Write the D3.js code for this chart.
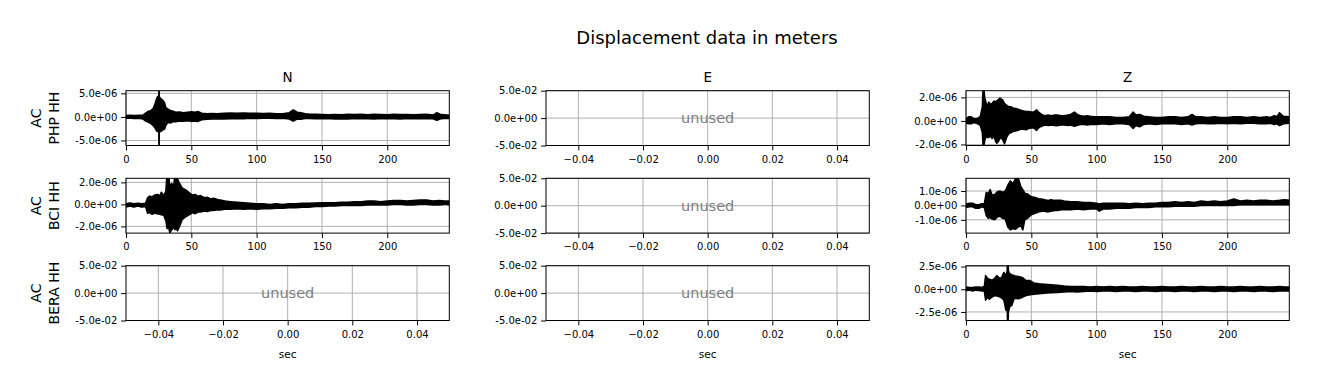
<!DOCTYPE html>
<html><head><meta charset="utf-8">
<script src="https://cdn.jsdelivr.net/npm/d3@7"></script>
<style>
body{margin:0;background:#fff}
svg{display:block}
text{font-family:"DejaVu Sans",sans-serif}
</style>
</head><body><svg id="chart" width="1318" height="389"></svg>
<script>
// ---------------- data ----------------
const figTitle = "Displacement data in meters";
const columnTitles = ["N", "E", "Z"];
const rowLabels = [["AC", "PHP HH"], ["AC", "BCI HH"], ["AC", "BERA HH"]];
const xLabel = "sec";
const unusedText = "unused";
const traceEnd = 247.5;                       // seconds
const timeTicks = [0, 50, 100, 150, 200];
const unusedXTicks = [-0.04, -0.02, 0, 0.02, 0.04];
const unusedLimits = [-0.05, 0.05];
const unusedYTicks = [-0.05, 0, 0.05];
const UNIT = 1e-6;                            // trace values below are in micrometres

// traces: [time (s), min, max] envelope of displacement (µm)
const PHP_N = [[0,-0.3,0.3],[3,-0.25,0.35],[6,-0.35,0.3],[10,-0.3,0.35],[13,-0.45,0.4],[15,-0.9,0.8],[17,-1.1,1.2],[19,-1.4,1.3],[21,-1.9,1.9],[22.5,-2.5,3.0],[23.5,-3.0,4.0],[24.5,-3.1,4.4],[25.1,-3.2,4.4],[25.3,-9,9],[25.5,-3.0,4.3],[26.5,-3.1,3.9],[28,-2.8,3.6],[29.5,-2.6,3.0],[30.5,-1.8,2.0],[32,-1.2,1.7],[34,-1.3,1.4],[36,-1.0,1.2],[38,-1.05,1.0],[41,-0.85,1.05],[44,-0.9,0.9],[47,-0.8,1.0],[50,-0.9,1.1],[53,-0.85,1.0],[55,-0.95,1.15],[58,-0.6,0.8],[62,-0.5,0.7],[66,-0.45,0.75],[70,-0.4,0.7],[75,-0.45,0.8],[80,-0.4,0.85],[85,-0.35,0.8],[90,-0.4,0.85],[95,-0.3,0.8],[100,-0.35,0.8],[105,-0.3,0.75],[110,-0.3,0.8],[115,-0.35,0.7],[120,-0.3,0.7],[125,-0.45,0.9],[128,-0.9,1.5],[131,-0.45,1.0],[134,-0.5,0.9],[137,-0.35,0.7],[140,-0.35,0.6],[145,-0.4,0.55],[150,-0.4,0.5],[155,-0.35,0.45],[160,-0.45,0.5],[165,-0.4,0.45],[170,-0.45,0.55],[175,-0.35,0.5],[180,-0.4,0.55],[185,-0.4,0.45],[190,-0.45,0.55],[195,-0.35,0.5],[200,-0.4,0.45],[205,-0.4,0.55],[210,-0.45,0.5],[215,-0.35,0.5],[220,-0.4,0.45],[225,-0.35,0.5],[230,-0.4,0.55],[235,-0.4,0.4],[238,-0.7,0.9],[241,-0.4,0.5],[244,-0.35,0.45],[247.5,-0.35,0.35]];
const BCI_N = [[0,-0.25,0.05],[3,-0.15,0.12],[6,-0.25,0.05],[9,-0.15,0.1],[12,-0.25,0.05],[15,-0.2,0.1],[16.5,-0.8,0.6],[18,-0.75,0.75],[20,-0.9,0.7],[22,-0.8,0.85],[24,-0.85,0.9],[26,-0.9,0.8],[27,-0.95,1.1],[29,-1.0,0.8],[30.5,-1.5,1.2],[31.5,-2.2,3.0],[32.5,-2.0,3.0],[33.5,-2.6,1.6],[35,-2.3,1.9],[36.5,-2.1,1.6],[37.5,-2.3,3.0],[38.5,-2.2,3.0],[39.5,-2.4,2.3],[41,-2.0,1.9],[43,-1.4,1.5],[46,-1.1,1.3],[49,-0.9,1.0],[51,-0.75,0.85],[53,-0.85,0.9],[55,-0.7,0.75],[57,-0.7,0.8],[60,-0.6,0.6],[62,-0.65,0.65],[65,-0.55,0.5],[67,-0.55,0.55],[70,-0.5,0.45],[72,-0.5,0.4],[76,-0.45,0.3],[80,-0.45,0.25],[85,-0.4,0.2],[90,-0.45,0.15],[95,-0.4,0.1],[100,-0.45,0.05],[105,-0.4,0.05],[110,-0.4,0.0],[115,-0.35,0.05],[120,-0.35,0.0],[125,-0.3,0.05],[130,-0.3,0.05],[135,-0.25,0.1],[140,-0.25,0.1],[145,-0.2,0.12],[150,-0.2,0.15],[155,-0.15,0.15],[160,-0.15,0.15],[165,-0.1,0.2],[170,-0.1,0.2],[175,-0.1,0.25],[180,-0.1,0.25],[185,-0.05,0.3],[190,-0.05,0.3],[195,-0.05,0.25],[200,-0.05,0.3],[205,0.0,0.35],[210,0.0,0.35],[215,-0.05,0.3],[220,-0.05,0.35],[225,0.0,0.4],[230,0.0,0.4],[235,-0.05,0.3],[240,-0.05,0.35],[244,0.0,0.3],[247.5,-0.05,0.3]];
const PHP_Z = [[0,-0.2,0.2],[2,-0.25,0.35],[4,-0.25,0.35],[6,-0.15,0.2],[8,-0.2,0.2],[10,-0.3,0.3],[11,-0.4,0.4],[12.5,-1.0,1.2],[13.1,-2.2,3.0],[13.6,-2.3,3.0],[14.3,-1.7,2.0],[15.5,-1.3,1.5],[16.5,-1.4,1.3],[17.5,-1.4,1.6],[19,-1.3,1.4],[20,-1.5,1.5],[21.5,-1.3,1.7],[22.5,-1.7,1.6],[23.5,-1.9,1.7],[24.5,-1.8,1.8],[26,-1.5,1.95],[27,-1.4,1.85],[28,-1.6,1.8],[29.5,-1.95,1.5],[30.5,-1.6,1.4],[31.5,-1.3,1.3],[33,-1.05,1.2],[34.5,-1.0,1.2],[36,-0.9,1.1],[38,-0.85,1.05],[40,-0.8,1.0],[42,-0.7,0.9],[44,-0.7,0.85],[46,-0.75,0.8],[48,-0.65,0.8],[50,-0.6,0.75],[52,-0.6,0.75],[54,-0.8,0.95],[56,-0.55,0.7],[58,-0.45,0.55],[60,-0.35,0.45],[63,-0.4,0.5],[65,-0.35,0.45],[68,-0.4,0.5],[70,-0.4,0.5],[73,-0.35,0.45],[75,-0.35,0.45],[78,-0.4,0.5],[80,-0.35,0.55],[83,-0.45,0.75],[86,-0.35,0.5],[88,-0.3,0.45],[90,-0.3,0.4],[93,-0.35,0.45],[95,-0.3,0.4],[98,-0.3,0.35],[100,-0.3,0.35],[105,-0.25,0.35],[110,-0.3,0.35],[115,-0.25,0.3],[120,-0.25,0.3],[125,-0.3,0.35],[128,-0.65,0.75],[130,-0.4,0.5],[133,-0.5,0.55],[136,-0.3,0.4],[140,-0.25,0.35],[145,-0.3,0.3],[150,-0.25,0.3],[155,-0.25,0.35],[160,-0.25,0.35],[165,-0.3,0.3],[170,-0.25,0.35],[173,-0.35,0.55],[176,-0.25,0.35],[180,-0.2,0.35],[185,-0.25,0.3],[190,-0.25,0.35],[195,-0.2,0.3],[200,-0.25,0.3],[205,-0.2,0.35],[210,-0.25,0.35],[215,-0.2,0.3],[220,-0.2,0.35],[225,-0.25,0.3],[230,-0.25,0.35],[233,-0.2,0.3],[236,-0.3,0.45],[238,-0.25,0.35],[240,-0.4,0.7],[243,-0.25,0.4],[247.5,-0.2,0.35]];
const BCI_Z = [[0,-0.15,0.1],[2.5,-0.1,0.15],[5,-0.1,0.15],[7.5,-0.2,0.05],[10,-0.2,0.05],[12,-0.1,0.12],[14,-0.15,0.1],[15.5,-0.7,0.9],[17,-0.9,0.8],[18.5,-0.85,1.1],[20,-0.95,0.7],[22,-1.0,0.75],[24,-0.8,0.95],[26,-0.75,1.0],[28,-0.9,0.9],[30,-0.95,1.0],[32,-1.5,1.4],[34,-1.7,1.7],[36,-1.6,1.5],[38,-1.65,1.9],[40,-1.5,1.9],[42,-1.4,1.3],[43.5,-1.7,1.1],[45,-1.0,0.85],[47,-0.9,0.8],[50,-0.65,0.6],[53,-0.55,0.55],[56,-0.45,0.45],[58,-0.4,0.45],[60,-0.4,0.4],[63,-0.45,0.35],[65,-0.4,0.4],[68,-0.35,0.35],[70,-0.35,0.35],[73,-0.3,0.35],[75,-0.3,0.3],[80,-0.3,0.25],[85,-0.25,0.25],[90,-0.3,0.2],[95,-0.25,0.2],[100,-0.25,0.15],[102,-0.4,0.1],[105,-0.25,0.15],[110,-0.25,0.15],[115,-0.2,0.15],[120,-0.2,0.15],[125,-0.2,0.12],[130,-0.15,0.15],[135,-0.15,0.12],[140,-0.15,0.15],[145,-0.1,0.15],[150,-0.1,0.2],[155,-0.1,0.2],[160,-0.05,0.25],[165,-0.05,0.2],[170,-0.05,0.25],[175,-0.05,0.2],[180,0.0,0.3],[185,0.0,0.25],[190,0.0,0.3],[195,0.0,0.25],[200,0.0,0.3],[205,0.0,0.45],[210,0.05,0.3],[215,0.05,0.35],[220,0.05,0.3],[225,0.05,0.35],[230,0.05,0.35],[235,0.05,0.3],[240,0.05,0.35],[244,0.05,0.4],[247.5,0.05,0.35]];
const BERA_Z = [[0,-0.15,0.25],[2.5,-0.1,0.2],[5,-0.2,0.2],[7.5,-0.1,0.25],[10,-0.15,0.25],[12,-0.2,0.2],[14,-0.2,0.3],[15,-1.2,1.5],[16.5,-0.9,1.2],[18,-1.1,1.1],[20,-0.85,1.0],[22,-0.7,1.2],[23.5,-0.75,1.5],[25,-0.8,1.3],[27,-0.9,1.2],[29,-1.2,1.85],[30.5,-2.3,1.5],[31.5,-2.0,2.0],[32,-4.5,4.0],[32.5,-2.5,2.0],[33.5,-1.9,1.7],[35,-1.8,1.6],[37,-1.0,1.5],[40,-1.05,1.4],[43,-0.9,1.3],[46,-0.7,0.95],[49,-0.6,0.95],[52,-0.55,0.7],[56,-0.5,0.6],[60,-0.45,0.55],[65,-0.4,0.5],[70,-0.35,0.45],[75,-0.3,0.35],[80,-0.25,0.3],[85,-0.3,0.3],[90,-0.25,0.3],[95,-0.2,0.25],[100,-0.25,0.3],[105,-0.2,0.25],[110,-0.2,0.3],[115,-0.25,0.25],[120,-0.2,0.3],[125,-0.2,0.25],[130,-0.25,0.25],[135,-0.2,0.3],[140,-0.2,0.25],[145,-0.25,0.25],[150,-0.2,0.3],[155,-0.2,0.25],[160,-0.25,0.25],[165,-0.2,0.3],[170,-0.2,0.25],[175,-0.25,0.25],[180,-0.2,0.3],[185,-0.2,0.25],[190,-0.25,0.25],[195,-0.2,0.3],[200,-0.2,0.25],[205,-0.25,0.25],[210,-0.2,0.3],[215,-0.2,0.25],[220,-0.25,0.25],[225,-0.2,0.3],[230,-0.2,0.25],[235,-0.25,0.25],[240,-0.2,0.3],[244,-0.2,0.25],[247.5,-0.2,0.25]];

const PHP_N_yLim = [-6.07e-6, 5.57e-6],  PHP_N_yTicks = [-5e-6, 0, 5e-6];
const BCI_N_yLim = [-2.61e-6, 2.37e-6],  BCI_N_yTicks = [-2e-6, 0, 2e-6];
const PHP_Z_yLim = [-2.09e-6, 2.57e-6],  PHP_Z_yTicks = [-2e-6, 0, 2e-6];
const BCI_Z_yLim = [-1.92e-6, 1.88e-6],  BCI_Z_yTicks = [-1e-6, 0, 1e-6];
const BERA_Z_yLim = [-3.44e-6, 2.59e-6], BERA_Z_yTicks = [-2.5e-6, 0, 2.5e-6];

const panels = [
  {row:0, col:0, trace:PHP_N, yLim:PHP_N_yLim, yTicks:PHP_N_yTicks},
  {row:0, col:1, trace:null},
  {row:0, col:2, trace:PHP_Z, yLim:PHP_Z_yLim, yTicks:PHP_Z_yTicks},
  {row:1, col:0, trace:BCI_N, yLim:BCI_N_yLim, yTicks:BCI_N_yTicks},
  {row:1, col:1, trace:null},
  {row:1, col:2, trace:BCI_Z, yLim:BCI_Z_yLim, yTicks:BCI_Z_yTicks},
  {row:2, col:0, trace:null},
  {row:2, col:1, trace:null},
  {row:2, col:2, trace:BERA_Z, yLim:BERA_Z_yLim, yTicks:BERA_Z_yTicks}
];

// ---------------- layout ----------------
const colX = [126, 546, 966];
const rowY = [90.7, 178.3, 265.7];
const PW = 323.3, PH = 54.8;
const GRID = "#b0b0b0";

function fmtE(v) {
  const s = v.toExponential(1);           // e.g. "5.0e-6"
  const m = s.match(/^(-?[\d.]+)e([+-])(\d+)$/);
  return m[1] + "e" + m[2] + m[3].padStart(2, "0");
}

const svg = d3.select("#chart");
svg.append("rect").attr("width", 1318).attr("height", 389).attr("fill", "#fff");

svg.append("text").attr("x", 707).attr("y", 44).attr("text-anchor", "middle")
  .attr("font-size", 18).attr("fill", "#000").text(figTitle);

columnTitles.forEach((t, i) => {
  svg.append("text").attr("x", colX[i] + PW / 2).attr("y", rowY[0] - 8.5)
    .attr("text-anchor", "middle").attr("font-size", 13.5).attr("fill", "#000").text(t);
});

rowLabels.forEach((lines, r) => {
  const cy = rowY[r] + PH / 2;
  const xs = [40.7, 59.3];
  lines.forEach((ln, k) => {
    svg.append("text").attr("transform", `translate(${xs[k]},${cy}) rotate(-90)`)
      .attr("text-anchor", "middle").attr("font-size", 14).attr("fill", "#000").text(ln);
  });
});

panels.forEach((p, i) => {
  const g = svg.append("g").attr("transform", `translate(${colX[p.col]},${rowY[p.row]})`);
  const used = !!p.trace;
  const x = d3.scaleLinear().domain(used ? [0, traceEnd] : unusedLimits).range([0, PW]);
  const y = d3.scaleLinear().domain(used ? p.yLim : unusedLimits).range([PH, 0]);
  const xt = used ? timeTicks : unusedXTicks;
  const yt = used ? p.yTicks : unusedYTicks;

  // grid
  g.append("g").selectAll("line").data(xt).join("line")
    .attr("x1", d => x(d)).attr("x2", d => x(d)).attr("y1", 0).attr("y2", PH)
    .attr("stroke", GRID).attr("stroke-width", 1);
  g.append("g").selectAll("line").data(yt).join("line")
    .attr("y1", d => y(d)).attr("y2", d => y(d)).attr("x1", 0).attr("x2", PW)
    .attr("stroke", GRID).attr("stroke-width", 1);

  if (used) {
    const cid = "clip" + i;
    g.append("clipPath").attr("id", cid).append("rect").attr("width", PW).attr("height", PH);
    const area = d3.area().x(d => x(d[0])).y0(d => y(d[1] * UNIT)).y1(d => y(d[2] * UNIT));
    g.append("path").attr("clip-path", `url(#${cid})`).datum(p.trace).attr("d", area)
      .attr("fill", "#000").attr("stroke", "#000").attr("stroke-width", 1.5).attr("stroke-linejoin", "round");
  } else {
    g.append("text").attr("x", PW / 2).attr("y", PH / 2).attr("dy", "0.35em")
      .attr("text-anchor", "middle").attr("font-size", 14.5).attr("fill", "#808080").text(unusedText);
  }

  // spines
  g.append("rect").attr("width", PW).attr("height", PH).attr("fill", "none")
    .attr("stroke", "#000").attr("stroke-width", 1);

  const xa = g.append("g").attr("transform", `translate(0,${PH})`)
    .call(d3.axisBottom(x).tickValues(xt).tickSize(4.9).tickPadding(5.3)
      .tickFormat(used ? d3.format("d") : d3.format(".2f")));
  const ya = g.append("g")
    .call(d3.axisLeft(y).tickValues(yt).tickSize(4.9).tickPadding(3.8).tickFormat(fmtE));
  [xa, ya].forEach(a => {
    a.select(".domain").remove();
    a.selectAll("line").attr("stroke", "#000").attr("stroke-width", 1);
    a.selectAll("text").attr("font-size", 10).attr("font-family", "DejaVu Sans, sans-serif").attr("fill", "#000");
  });

  if (p.row === 2) {
    g.append("text").attr("x", PW / 2).attr("y", PH + 37.3).attr("text-anchor", "middle")
      .attr("font-size", 10.5).attr("fill", "#000").text(xLabel);
  }
});
</script>
</body></html>
